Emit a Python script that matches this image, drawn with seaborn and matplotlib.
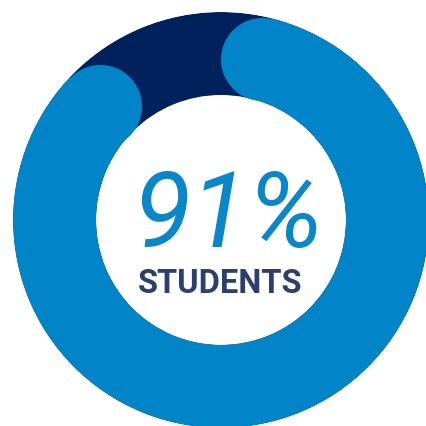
import numpy as np
import matplotlib
matplotlib.use("Agg")
import matplotlib.pyplot as plt
import seaborn as sns

# Share of students, in percent, shown as a progress ring
share_pct = 91
share_label = "STUDENTS"
value_text = f"{share_pct}%"

ring_colors = ["#0285C8", "#00215B"]    # share arc, remaining track
text_colors = ["#0A87CA", "#2B3F70"]    # big figure, caption

sns.set_theme(style="white")

W, H, DPI = 427, 426, 100
fig = plt.figure(figsize=(W / DPI, H / DPI), dpi=DPI)
fig.patch.set_facecolor("white")

# ring geometry in pixels (radial axis is in pixel units)
cx, cy = 221, 220
r_out, r_in = 208, 125
ring_w = r_out - r_in
r_mid = (r_out + r_in) / 2

ax = fig.add_axes([(cx - r_out) / W, (H - cy - r_out) / H, 2 * r_out / W, 2 * r_out / H],
                  projection="polar")
ax.set_theta_zero_location("N")
ax.set_theta_direction(-1)
ax.set_ylim(0, r_out)
ax.set_axis_off()

# background track: full annulus
ax.bar(0, ring_w, width=2 * np.pi, bottom=r_in, align="edge",
       color=ring_colors[1], linewidth=0)

# share arc with rounded ends; the ends are included in the share
full = share_pct / 100 * 2 * np.pi
cap = (ring_w / 2) / r_mid
ax.bar(cap, ring_w, width=full - 2 * cap, bottom=r_in, align="edge",
       color=ring_colors[0], linewidth=0)
cap_pt = ring_w * 72 / DPI
ax.scatter([cap, full - cap], [r_mid, r_mid], s=cap_pt ** 2, marker="o",
           color=ring_colors[0], linewidths=0, clip_on=False, zorder=3)

fig.text(228 / W, 1 - 247 / H, value_text, ha="center", va="baseline",
         fontsize=76, family="Roboto", style="italic", weight="normal",
         color=text_colors[0])
fig.text(220.5 / W, 1 - 293 / H, share_label, ha="center", va="baseline",
         fontsize=23.5, family="Roboto", weight="bold",
         color=text_colors[1])

fig.savefig("out.png", dpi=DPI, facecolor="white")
